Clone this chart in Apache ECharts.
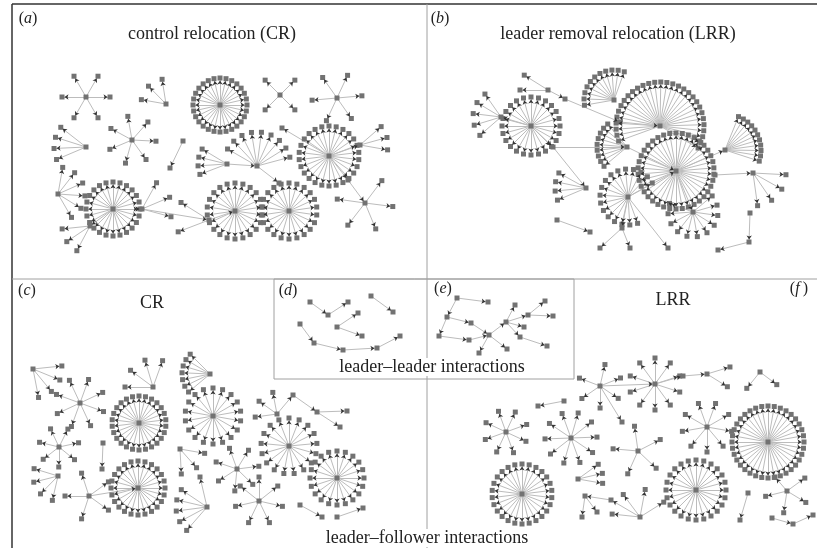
<!DOCTYPE html>
<html>
<head>
    <meta charset="utf-8">
    <title>leader-follower networks</title>
    <script src="https://cdn.jsdelivr.net/npm/echarts@6/dist/echarts.min.js"></script>
    <style>
        html, body { margin: 0; padding: 0; background: #fff; }
        #chart { width: 817px; height: 548px; }
    </style>
</head>
<body>
<div id="chart"></div>
<script>
// star = [hubX, hubY, radius, startAngle, endAngle, leafCount]  (angles in degrees, y downwards)
// chain = list of nodes, each one pointing to the next
var starsA = [
    [86, 97, 24, -120, 240, 6],
    [166, 104, 25, -170, -99, 3],
    [220, 105, 27, -90, 270, 28],
    [280, 95, 21, -135, 225, 4],
    [337, 98, 25, -125, 235, 6],
    [86, 147, 32, 157, 218, 4],
    [132, 140, 24, -100, 260, 7],
    [227, 164, 29, 159, 211, 4],
    [257, 166, 34, -150, -15, 9],
    [329, 156, 30, -90, 270, 26],
    [360, 145, 28, -41, 10, 3],
    [113, 209, 27, -90, 270, 24],
    [58, 194, 27, -80, 60, 6],
    [90, 226, 28, 118, 174, 3],
    [142, 209, 30, -61, 15, 3],
    [209, 220, 33, 159, 212, 2],
    [235, 211, 28, -90, 270, 22],
    [289, 211, 28, -90, 270, 22],
    [365, 203, 28, -53, 188, 5]
];
var chainsA = [
    [[183, 141], [170, 168]],
    [[227, 164], [257, 166], [279, 183]],
    [[329, 156], [282, 128]],
    [[329, 156], [360, 145]],
    [[113, 209], [90, 226]],
    [[113, 209], [142, 209], [209, 220], [235, 211]],
    [[329, 156], [348, 180], [365, 203]]
];

var starsB = [
    [531, 126, 29, -90, 270, 24],
    [501, 117, 28, 139, 235, 5],
    [660, 126, 44, 160, 390, 30],
    [676, 171, 38, -90, 270, 38],
    [614, 100, 30, 170, 290, 11],
    [548, 90, 28, 180, 212, 2],
    [627, 147, 30, 140, 230, 9],
    [586, 188, 31, 157, 209, 4],
    [628, 197, 28, 70, 330, 17],
    [693, 212, 25, -40, 200, 11],
    [725, 150, 36, -68, 18, 11],
    [753, 173, 33, 3, 82, 4]
];
var chainsB = [
    [[531, 126], [501, 117]],
    [[548, 90], [565, 99], [620, 122], [660, 126]],
    [[531, 126], [553, 147], [586, 188]],
    [[553, 147], [627, 147]],
    [[627, 147], [676, 171]],
    [[628, 197], [676, 171]],
    [[676, 171], [693, 212]],
    [[676, 171], [725, 150]],
    [[715, 175], [753, 173]],
    [[628, 197], [622, 228], [600, 248]],
    [[622, 228], [630, 248]],
    [[628, 197], [668, 248]],
    [[750, 213], [749, 242], [718, 250]],
    [[557, 220], [590, 232]]
];

var starsC = [
    [33, 369, 29, -6, 79, 4],
    [80, 403, 25, -115, 245, 8],
    [153, 387, 28, 180, 290, 4],
    [139, 423, 27, -90, 270, 26],
    [210, 374, 28, 140, 225, 7],
    [213, 416, 28, -90, 270, 18],
    [277, 414, 22, 172, 259, 3],
    [289, 446, 28, -90, 270, 17],
    [337, 478, 27, -90, 270, 20],
    [59, 447, 20, -115, 245, 7],
    [58, 476, 25, 103, 197, 4],
    [89, 496, 24, -108, 252, 5],
    [138, 488, 27, -90, 270, 24],
    [180, 449, 25, 10, 87, 3],
    [237, 469, 22, -110, 250, 7],
    [259, 501, 24, -90, 270, 7],
    [207, 507, 31, 131, 214, 5]
];
var chainsC = [
    [[277, 414], [293, 395], [317, 412], [347, 411]],
    [[317, 412], [340, 427]],
    [[103, 443], [102, 469]],
    [[89, 496], [138, 488]],
    [[207, 507], [200, 477]],
    [[300, 505], [322, 517]],
    [[337, 517], [363, 508]]
];

var chainsD = [
    [[310, 302], [328, 315], [348, 302]],
    [[371, 296], [393, 312]],
    [[337, 327], [358, 313]],
    [[337, 327], [362, 336]],
    [[300, 324], [314, 343], [343, 350], [377, 348], [400, 336]]
];

var chainsE = [
    [[457, 298], [488, 302]],
    [[457, 298], [447, 317], [471, 323], [489, 335]],
    [[447, 317], [439, 336], [469, 340], [489, 335]],
    [[489, 335], [479, 353]],
    [[489, 335], [507, 349]],
    [[489, 335], [506, 322]],
    [[506, 322], [515, 305]],
    [[506, 322], [528, 315], [545, 301]],
    [[528, 315], [553, 316]],
    [[506, 322], [524, 327]],
    [[506, 322], [520, 337], [547, 346]]
];

var starsF = [
    [600, 386, 22, -77, 201, 6],
    [655, 384, 26, -90, 270, 10],
    [707, 374, 24, -17, 32, 2],
    [760, 372, 21, 37, 129, 2],
    [506, 432, 22, -110, 250, 8],
    [571, 438, 26, -110, 250, 10],
    [638, 451, 25, -98, 185, 5],
    [707, 427, 25, -110, 250, 9],
    [768, 442, 36, -90, 270, 36],
    [522, 494, 30, -90, 270, 26],
    [578, 479, 25, -36, 10, 3],
    [696, 490, 30, -90, 270, 24],
    [640, 517, 28, 186, 328, 4],
    [787, 491, 22, -36, 166, 4]
];
var chainsF = [
    [[600, 386], [622, 422]],
    [[600, 386], [655, 384]],
    [[655, 384], [683, 376], [707, 374]],
    [[564, 401], [538, 406]],
    [[585, 496], [582, 517]],
    [[585, 496], [597, 512]],
    [[640, 517], [611, 500], [585, 496]],
    [[748, 493], [740, 520]],
    [[787, 491], [775, 477]],
    [[772, 518], [793, 524], [813, 515]]
];

var allStars = starsA.concat(starsB, starsC, starsF);
var allChains = chainsA.concat(chainsB, chainsC, chainsD, chainsE, chainsF);

// build nodes + links
var nodes = [], nodeIndex = {}, links = [];
function addNode(p) {
    var k = p[0].toFixed(1) + ',' + p[1].toFixed(1);
    if (!(k in nodeIndex)) {
        nodeIndex[k] = 'n' + nodes.length;
        nodes.push({name: nodeIndex[k], value: [p[0], p[1]]});
    }
    return nodeIndex[k];
}
function addLink(p, q) {
    links.push({source: addNode(p), target: addNode(q)});
}
allStars.forEach(function (s) {
    var full = s[4] - s[3] >= 360;
    var step = full ? 360 / s[5] : (s[5] > 1 ? (s[4] - s[3]) / (s[5] - 1) : 0);
    for (var i = 0; i < s[5]; i++) {
        var a = (s[3] + i * step) * Math.PI / 180;
        addLink([s[0], s[1]], [s[0] + s[2] * Math.cos(a), s[1] + s[2] * Math.sin(a)]);
    }
});
allChains.forEach(function (c) {
    for (var i = 1; i < c.length; i++) addLink(c[i - 1], c[i]);
});

function copyNodes() {
    return nodes.map(function (n) { return {name: n.name, value: n.value.slice()}; });
}
function copyLinks() {
    return links.map(function (l) { return {source: l.source, target: l.target}; });
}

var serif = '"Liberation Serif", "DejaVu Serif", serif';
function label(x, y, letter, size) {
    return {
        type: 'text', x: x, y: y, z: 100,
        style: {
            text: '{p|(}{i|' + letter + '}{p|)}',
            align: 'center', verticalAlign: 'middle', fill: '#222',
            fontSize: size, fontFamily: serif,
            rich: {
                p: {fontSize: size, fontFamily: serif, fill: '#222'},
                i: {fontSize: size, fontFamily: serif, fontStyle: 'italic', fill: '#222'}
            }
        }
    };
}
function title(x, y, txt) {
    return {
        type: 'text', x: x, y: y, z: 100,
        style: {
            text: txt, align: 'center', verticalAlign: 'middle', fill: '#222',
            fontSize: 18, fontFamily: serif,
            backgroundColor: '#fff', padding: [0, 2]
        }
    };
}
function line(x1, y1, x2, y2, c, w) {
    return {type: 'line', z: 90, shape: {x1: x1, y1: y1, x2: x2, y2: y2}, style: {stroke: c, lineWidth: w}};
}

var myChart = echarts.init(document.getElementById('chart'));
myChart.setOption({
    animation: false,
    backgroundColor: '#fff',
    grid: {left: 0, right: 0, top: 0, bottom: 0},
    xAxis: {type: 'value', min: 0, max: 817, show: false},
    yAxis: {type: 'value', min: 0, max: 548, inverse: true, show: false},
    graphic: [
        line(12, 4, 817, 4, '#333', 1.5),
        line(12, 4, 12, 548, '#333', 1.5),
        line(12, 279, 817, 279, '#a0a0a0', 1),
        line(427, 4, 427, 548, '#a0a0a0', 1),
        {type: 'rect', z: 90, shape: {x: 274, y: 279, width: 300, height: 100},
            style: {fill: 'none', stroke: '#a0a0a0', lineWidth: 1}},
        label(28, 19, 'a', 16),
        title(212, 34, 'control relocation (CR)'),
        label(440, 19, 'b', 16),
        title(618, 34, 'leader removal relocation (LRR)'),
        label(27, 291, 'c', 16),
        title(152, 303, 'CR'),
        label(288, 291, 'd', 16),
        label(443, 289, 'e', 16),
        title(673, 300, 'LRR'),
        label(799, 289, 'f\u2009', 16),
        title(432, 367, 'leader\u2013leader interactions'),
        title(427, 538, 'leader\u2013follower interactions')
    ],
    series: [
        {
            type: 'graph',
            coordinateSystem: 'cartesian2d',
            xAxisIndex: 0, yAxisIndex: 0,
            data: copyNodes(),
            links: copyLinks(),
            symbol: 'rect',
            symbolSize: 5,
            itemStyle: {color: '#727272'},
            lineStyle: {color: '#bcbcbc', width: 1, opacity: 1, curveness: 0},
            label: {show: false},
            emphasis: {disabled: true},
            silent: true,
            z: 2
        },
        {
            // dark arrow heads only
            type: 'graph',
            coordinateSystem: 'cartesian2d',
            xAxisIndex: 0, yAxisIndex: 0,
            data: copyNodes(),
            links: copyLinks(),
            symbol: 'rect',
            symbolSize: 5,
            itemStyle: {opacity: 0},
            lineStyle: {color: '#333', width: 0, opacity: 1, curveness: 0},
            edgeSymbol: ['none', 'arrow'],
            edgeSymbolSize: [0, 4],
            label: {show: false},
            emphasis: {disabled: true},
            silent: true,
            z: 3
        }
    ]
});
</script>
</body>
</html>
